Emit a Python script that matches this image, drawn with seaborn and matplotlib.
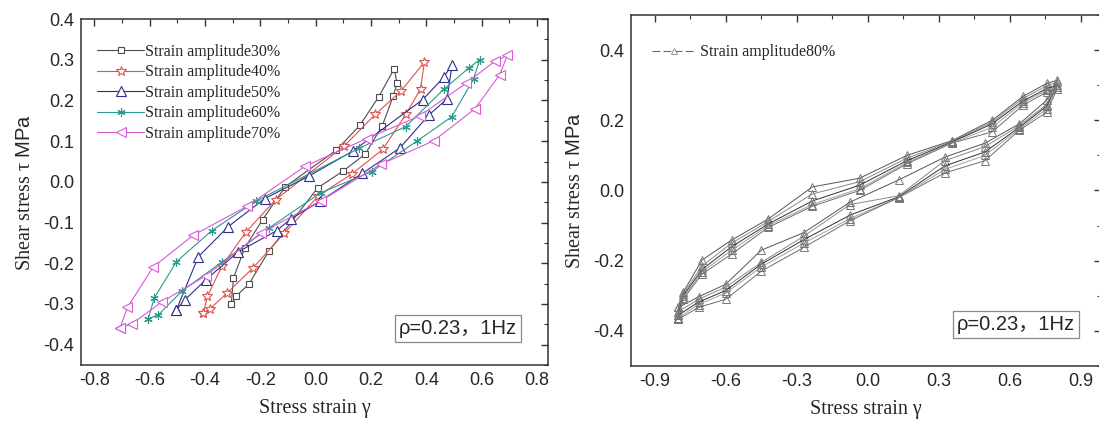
import numpy as np
import pandas as pd
import matplotlib
matplotlib.use("Agg")
import matplotlib.pyplot as plt
import seaborn as sns
from matplotlib.lines import Line2D
from matplotlib.ticker import MultipleLocator

sns.set_style("white")
plt.rcParams['font.family'] = ['Liberation Serif', 'Noto Sans CJK SC']
plt.rcParams['mathtext.fontset'] = 'custom'
plt.rcParams['mathtext.rm'] = 'Liberation Serif'
plt.rcParams['mathtext.it'] = 'Liberation Serif:italic'
plt.rcParams['mathtext.sf'] = 'Liberation Sans'
plt.rcParams['axes.unicode_minus'] = False

# Left panel: one loop per strain amplitude (loading branch then unloading branch)
x30 = [-0.305, -0.297, -0.256, -0.192, -0.110, 0.075, 0.160, 0.228, 0.284,
       0.294, 0.280, 0.241, 0.179, 0.098, 0.007, -0.170, -0.241, -0.288, -0.305]
y30 = [-0.301, -0.236, -0.162, -0.093, -0.012, 0.078, 0.139, 0.209, 0.278,
       0.242, 0.210, 0.138, 0.068, 0.026, -0.015, -0.171, -0.251, -0.281, -0.301]

x40 = [-0.406, -0.391, -0.338, -0.253, -0.145, 0.103, 0.216, 0.307, 0.393,
       0.379, 0.327, 0.243, 0.132, 0.010, -0.113, -0.226, -0.320, -0.382, -0.406]
y40 = [-0.322, -0.281, -0.206, -0.124, -0.044, 0.088, 0.166, 0.222, 0.294,
       0.228, 0.167, 0.080, 0.020, -0.034, -0.126, -0.211, -0.273, -0.312, -0.322]

x50 = [-0.503, -0.424, -0.316, -0.184, -0.025, 0.135, 0.387, 0.463, 0.493,
       0.475, 0.409, 0.304, 0.169, 0.015, -0.090, -0.141, -0.280, -0.396, -0.473, -0.503]
y50 = [-0.314, -0.184, -0.110, -0.041, 0.014, 0.076, 0.202, 0.257, 0.288,
       0.204, 0.164, 0.083, 0.021, -0.048, -0.091, -0.120, -0.172, -0.240, -0.290, -0.314]

x60 = [-0.605, -0.583, -0.503, -0.376, -0.215, 0.156, 0.326, 0.464, 0.554, 0.593,
       0.571, 0.492, 0.368, 0.202, 0.018, -0.168, -0.339, -0.483, -0.569, -0.605]
y60 = [-0.336, -0.285, -0.196, -0.120, -0.047, 0.082, 0.136, 0.228, 0.280, 0.300,
       0.253, 0.160, 0.101, 0.025, -0.027, -0.113, -0.197, -0.268, -0.327, -0.336]

x70 = [-0.707, -0.680, -0.587, -0.442, -0.248, -0.037, 0.184, 0.376, 0.543, 0.647, 0.693,
       0.665, 0.575, 0.427, 0.235, 0.020, -0.198, -0.398, -0.556, -0.665, -0.707]
y70 = [-0.359, -0.308, -0.209, -0.131, -0.060, 0.039, 0.106, 0.162, 0.242, 0.296, 0.311,
       0.263, 0.179, 0.101, 0.043, -0.046, -0.126, -0.231, -0.295, -0.349, -0.359]

labels_left = ['Strain amplitude30%', 'Strain amplitude40%', 'Strain amplitude50%',
               'Strain amplitude60%', 'Strain amplitude70%']

# Right panel: several cycles at 80% amplitude, same strain steps
x80 = [-0.80, -0.78, -0.70, -0.575, -0.42, -0.235, -0.035, 0.165, 0.355, 0.525, 0.655, 0.755, 0.80,
       0.755, 0.64, 0.495, 0.325, 0.13, -0.075, -0.27, -0.45, -0.60, -0.715, -0.80]
y80_c1 = [-0.333, -0.290, -0.198, -0.141, -0.081, 0.010, 0.035, 0.100, 0.142, 0.200, 0.268, 0.305, 0.314,
          0.257, 0.190, 0.135, 0.095, 0.030, -0.033, -0.120, -0.170, -0.267, -0.303, -0.333]
y80_c2 = [-0.345, -0.295, -0.215, -0.150, -0.088, -0.010, 0.025, 0.092, 0.140, 0.195, 0.262, 0.298, 0.308,
          0.245, 0.185, 0.125, 0.085, -0.015, -0.040, -0.130, -0.205, -0.275, -0.310, -0.345]
y80_c3 = [-0.355, -0.300, -0.225, -0.160, -0.095, -0.030, 0.015, 0.085, 0.138, 0.190, 0.255, 0.290, 0.300,
          0.240, 0.180, 0.110, 0.070, -0.018, -0.070, -0.140, -0.210, -0.285, -0.318, -0.355]
y80_c4 = [-0.362, -0.305, -0.232, -0.170, -0.100, -0.040, 0.005, 0.080, 0.136, 0.180, 0.250, 0.285, 0.295,
          0.232, 0.176, 0.100, 0.060, -0.020, -0.080, -0.150, -0.218, -0.292, -0.325, -0.362]
y80_c5 = [-0.367, -0.310, -0.238, -0.181, -0.105, -0.045, 0.000, 0.076, 0.135, 0.167, 0.243, 0.280, 0.290,
          0.223, 0.172, 0.085, 0.050, -0.020, -0.086, -0.162, -0.230, -0.310, -0.333, -0.367]

fig = plt.figure(figsize=(10.99, 4.23), dpi=100)
ax1 = fig.add_axes([0.0737, 0.137, 0.425, 0.818])
ax2 = fig.add_axes([0.5742, 0.1348, 0.4277, 0.8297])

# styles for the five left loops
colors = ['#4d4d4d', '#e0524a', '#2e2e8a', '#2a9a8c', '#d65ad6']
markers = ['s', '*', '^', (6, 2, 0), '<']
msizes = [5, 7, 6.5, 6, 6.5]
series = [(x30, y30), (x40, y40), (x50, y50), (x60, y60), (x70, y70)]

for (xs, ys), lab, c, m, ms in zip(series, labels_left, colors, markers, msizes):
    df = pd.DataFrame({'strain': xs, 'stress': ys})
    sns.lineplot(data=df, x='strain', y='stress', sort=False, estimator=None, ax=ax1,
                 color=c, lw=0.8, marker=m, markersize=ms, markerfacecolor='white',
                 markeredgecolor=c, markeredgewidth=0.8, label=lab)

ax1.set_xlim(-0.848, 0.84)
ax1.set_ylim(-0.45, 0.4)
ax1.xaxis.set_major_locator(MultipleLocator(0.2))
ax1.xaxis.set_minor_locator(MultipleLocator(0.1))
ax1.yaxis.set_major_locator(MultipleLocator(0.1))
ax1.yaxis.set_minor_locator(MultipleLocator(0.05))
ax1.legend(loc='upper left', bbox_to_anchor=(0.035, 0.928), frameon=False,
           fontsize=11.5, handlelength=2.9, handletextpad=0.1, labelspacing=0.28,
           borderaxespad=0.0, borderpad=0.0)

# right panel cycles
grays = ['#555555', '#8a8a8a', '#303030', '#a0a0a0', '#6e6e6e']
for ys, g in zip([y80_c1, y80_c2, y80_c3, y80_c4, y80_c5], grays):
    df = pd.DataFrame({'strain': x80, 'stress': ys})
    sns.lineplot(data=df, x='strain', y='stress', sort=False, estimator=None, ax=ax2,
                 color=g, lw=0.7, marker='^', markersize=6, markerfacecolor='none',
                 markeredgecolor='#777777', markeredgewidth=0.7)

ax2.set_xlim(-1.0, 0.985)
ax2.set_ylim(-0.5, 0.5)
ax2.xaxis.set_major_locator(MultipleLocator(0.3))
ax2.xaxis.set_minor_locator(MultipleLocator(0.15))
ax2.yaxis.set_major_locator(MultipleLocator(0.2))
ax2.yaxis.set_minor_locator(MultipleLocator(0.1))
proxy = Line2D([], [], color='#666666', lw=0.8, ls=(0, (7, 3)), marker='^', markersize=5,
               markerfacecolor='white', markeredgecolor='#888888', markeredgewidth=0.6)
ax2.legend([proxy], ['Strain amplitude80%'], loc='upper left', bbox_to_anchor=(0.045, 0.917),
           frameon=False, fontsize=11.5, handlelength=2.7, handletextpad=0.3,
           borderaxespad=0.0, borderpad=0.0)

for ax in [ax1, ax2]:
    ax.set_xlabel('Stress strain γ', fontsize=14.5, labelpad=7)
    ax.set_ylabel(r'Shear stress τ $\mathsf{MPa}$', fontsize=14.5, labelpad=6)
    for s in ax.spines.values():
        s.set_color('#333333')
        s.set_linewidth(1.1)
    ax.tick_params(which='both', direction='in', top=True, right=True, color='#333333')
    ax.tick_params(which='major', length=5, width=1.0, labelsize=13, pad=5)
    ax.tick_params(which='minor', length=3, width=0.8)
    for t in ax.get_xticklabels() + ax.get_yticklabels():
        t.set_fontfamily('Liberation Sans')
    ax.set_facecolor('white')

ax1.text(0.933, 0.078, 'ρ=0.23，1Hz', transform=ax1.transAxes, ha='right', va='bottom',
         fontsize=14.5, family=['Liberation Sans', 'Noto Sans CJK SC'],
         bbox=dict(boxstyle='square,pad=0.2', fc='white', ec='#888888', lw=0.9))
ax2.text(0.944, 0.09, 'ρ=0.23，1Hz', transform=ax2.transAxes, ha='right', va='bottom',
         fontsize=14.5, family=['Liberation Sans', 'Noto Sans CJK SC'],
         bbox=dict(boxstyle='square,pad=0.2', fc='white', ec='#888888', lw=0.9))

fig.savefig('out.png', dpi=100, facecolor='white')
